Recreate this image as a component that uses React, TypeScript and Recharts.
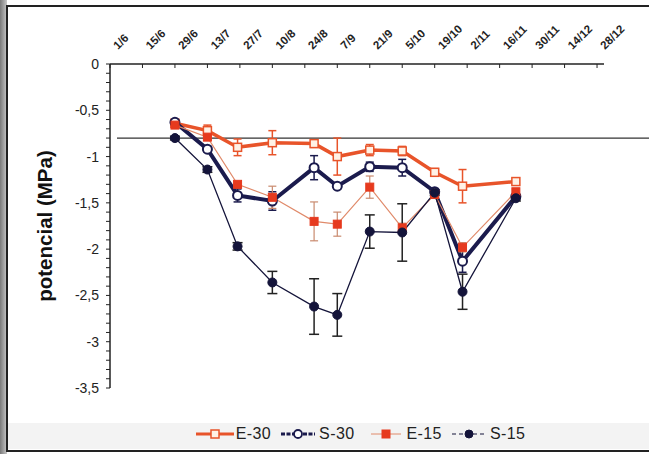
import React from 'react';
import { LineChart, Line, XAxis, YAxis, ErrorBar, ReferenceLine, Legend } from 'recharts';

const FONT = '"Liberation Sans", Arial, sans-serif';

// days since 1 June
const days = [28, 42, 55, 70, 88, 98, 112, 126, 140, 152, 175];
const e30 = [-0.64, -0.72, -0.9, -0.85, -0.86, -1.0, -0.93, -0.94, -1.17, -1.32, -1.27];
const e30Err = [0.03, 0.06, 0.09, 0.13, 0.04, 0.2, 0.06, 0.05, 0.04, 0.18, 0.03];
const s30 = [-0.63, -0.92, -1.42, -1.48, -1.12, -1.32, -1.11, -1.12, -1.38, -2.13, -1.43];
const s30Err = [0.02, 0.03, 0.07, 0.1, 0.13, 0.03, 0.05, 0.09, 0.03, 0.12, 0.03];
const e15 = [-0.66, -0.79, -1.3, -1.44, -1.7, -1.73, -1.33, -1.77, -1.41, -1.98, -1.38];
const e15Err = [0.02, 0.03, 0.03, 0.12, 0.21, 0.13, 0.12, 0.05, 0.03, 0.05, 0.03];
const s15 = [-0.8, -1.14, -1.97, -2.36, -2.62, -2.71, -1.81, -1.82, -1.39, -2.46, -1.45];
const s15Err = [0.02, 0.03, 0.04, 0.12, 0.3, 0.23, 0.18, 0.31, 0.03, 0.19, 0.03];

const tickDays = [0, 14, 28, 42, 56, 70, 84, 98, 112, 126, 140, 154, 168, 182, 196, 210];
const tickLabels = ['1/6', '15/6', '29/6', '13/7', '27/7', '10/8', '24/8', '7/9', '21/9', '5/10', '19/10', '2/11', '16/11', '30/11', '14/12', '28/12'];
const yTicks = [0, -0.1, -0.2, -0.3, -0.4, -0.5, -0.6, -0.7, -0.8, -0.9, -1, -1.1, -1.2, -1.3, -1.4, -1.5, -1.6, -1.7, -1.8, -1.9, -2, -2.1, -2.2, -2.3, -2.4, -2.5, -2.6, -2.7, -2.8, -2.9, -3, -3.1, -3.2, -3.3, -3.4, -3.5];
const yLabelTicks = [0, -0.5, -1, -1.5, -2, -2.5, -3, -3.5];
const thresholdValue = -0.8;

const data = days.map((d, i) => ({
  day: d,
  e30: e30[i], e30Err: e30Err[i],
  s30: s30[i], s30Err: s30Err[i],
  e15: e15[i], e15Err: e15Err[i],
  s15: s15[i], s15Err: s15Err[i],
}));

const C_E30 = '#e8542a';
const C_S30 = '#1b1b4d';
const C_E15 = '#e63a1e';
const C_E15_LINE = '#e08a6a';
const C_S15 = '#14143a';

const squareDot = (fill: string, stroke: string, size: number, sw: number) => (p: any) => {
  if (p.cx == null || p.cy == null) return <g key={p.index} />;
  return <rect key={p.index} x={p.cx - size / 2} y={p.cy - size / 2} width={size} height={size} fill={fill} stroke={stroke} strokeWidth={sw} />;
};
const circleDot = (fill: string, stroke: string, r: number, sw: number) => (p: any) => {
  if (p.cx == null || p.cy == null) return <g key={p.index} />;
  return <circle key={p.index} cx={p.cx} cy={p.cy} r={r} fill={fill} stroke={stroke} strokeWidth={sw} />;
};

const TopTick = (props: any) => {
  const { x, y, payload } = props;
  const idx = tickDays.indexOf(payload.value);
  const label = idx >= 0 ? tickLabels[idx] : '';
  return (
    <text
      x={0}
      y={0}
      transform={`translate(${x + 8},${y - 16}) rotate(-45)`}
      textAnchor="start"
      fontSize={11.5}
      fontWeight="bold"
      fontFamily={FONT}
      fill="#222"
    >
      {label}
    </text>
  );
};

const LeftTick = (props: any) => {
  const { x, y, payload } = props;
  const v = payload.value;
  if (!yLabelTicks.some((t) => Math.abs(t - v) < 1e-9)) return <g />;
  return (
    <text x={x} y={y} dy={5} textAnchor="end" fontSize={14} fontFamily={FONT} fill="#222">
      {String(v).replace('.', ',')}
    </text>
  );
};

const LegendContent = () => {
  const item = (icon: React.ReactNode, label: string, gap: number) => (
    <div style={{ display: 'flex', alignItems: 'center', marginRight: gap }}>
      <svg width={38} height={14} style={{ marginRight: 2 }}>{icon}</svg>
      <span>{label}</span>
    </div>
  );
  return (
    <div style={{ display: 'flex', justifyContent: 'center', alignItems: 'center', fontFamily: FONT, fontSize: 16, color: '#222', letterSpacing: 0.4 }}>
      {item(<g><line x1={0} y1={7} x2={38} y2={7} stroke={C_E30} strokeWidth={3} /><rect x={15} y={3} width={8} height={8} fill="#fff2e6" stroke={C_E30} strokeWidth={1.5} /></g>, 'E-30', 8)}
      {item(<g><line x1={2} y1={7} x2={36} y2={7} stroke={C_S30} strokeWidth={3} strokeDasharray="4 1.5" /><circle cx={19} cy={7} r={4} fill="#fff" stroke={C_S30} strokeWidth={1.8} /></g>, 'S-30', 12)}
      {item(<g><line x1={4} y1={7} x2={34} y2={7} stroke={C_E15_LINE} strokeWidth={1} /><rect x={15} y={3} width={8} height={8} fill={C_E15} stroke={C_E15} strokeWidth={1} /></g>, 'E-15', 8)}
      {item(<g><line x1={2} y1={7} x2={36} y2={7} stroke={C_S15} strokeWidth={1.2} strokeDasharray="4 3" /><circle cx={19} cy={7} r={4} fill={C_S15} stroke={C_S15} strokeWidth={1} /></g>, 'S-15', 0)}
    </div>
  );
};

export default function App() {
  return (
    <div style={{ position: 'absolute', left: 0, top: 0, width: 649, height: 454, overflow: 'hidden', background: '#fff' }}>
      <div style={{ position: 'absolute', left: 0, top: 0, width: 7, height: 454, background: 'linear-gradient(to right, #7a7a7a, #c8c8c8)' }} />
      <div style={{ position: 'absolute', left: 8, top: 423, width: 660, height: 26, background: '#f3f3f3' }} />
      <div style={{ position: 'absolute', left: 6, top: 5, width: 680, height: 443, border: '2px solid #222', boxSizing: 'content-box' }} />
      <div style={{ position: 'absolute', left: 0, top: 0 }}>
        <LineChart width={649} height={454} data={data} margin={{ top: 14, right: 45, bottom: 66, left: 0 }}>
          <XAxis
            dataKey="day"
            type="number"
            orientation="top"
            domain={[0, 213]}
            ticks={tickDays}
            height={50}
            interval={0}
            tick={<TopTick />}
            tickSize={-4}
            tickLine={{ stroke: '#222' }}
            axisLine={{ stroke: '#222', strokeWidth: 1.5 }}
          />
          <XAxis
            xAxisId="bottom"
            dataKey="day"
            type="number"
            orientation="bottom"
            domain={[0, 213]}
            height={0}
            tick={false}
            tickLine={false}
            axisLine={{ stroke: '#222', strokeWidth: 1.5 }}
          />
          <YAxis
            type="number"
            domain={[-3.5, 0]}
            ticks={yTicks}
            interval={0}
            width={110}
            tickSize={4}
            tickMargin={7}
            tick={<LeftTick />}
            tickLine={{ stroke: '#222' }}
            axisLine={{ stroke: '#222', strokeWidth: 1.5 }}
            label={{ value: 'potencial (MPa)', angle: -90, position: 'center', dx: -10, style: { fontFamily: FONT, fontSize: 20.5, fontWeight: 'bold', fill: '#111' } }}
          />
          <YAxis
            yAxisId="right"
            orientation="right"
            type="number"
            domain={[-3.5, 0]}
            width={0}
            tick={false}
            tickLine={false}
            axisLine={{ stroke: '#222', strokeWidth: 1.5 }}
          />
          <ReferenceLine
            y={thresholdValue}
            shape={(p: any) => <line x1={p.x1 + 7} y1={p.y1} x2={649} y2={p.y2} stroke="#333" strokeWidth={1.3} />}
          />
          <Line dataKey="e30" stroke={C_E30} strokeWidth={3.5} isAnimationActive={false} dot={squareDot('#fff2e6', C_E30, 8, 1.5)} activeDot={false}>
            <ErrorBar dataKey="e30Err" direction="y" width={4} stroke={C_E30} strokeWidth={1.5} isAnimationActive={false} />
          </Line>
          <Line dataKey="s30" stroke={C_S30} strokeWidth={4} isAnimationActive={false} dot={circleDot('#fff', C_S30, 4.5, 2)} activeDot={false}>
            <ErrorBar dataKey="s30Err" direction="y" width={4} stroke={C_S30} strokeWidth={1.5} isAnimationActive={false} />
          </Line>
          <Line dataKey="e15" stroke={C_E15_LINE} strokeWidth={1.2} isAnimationActive={false} dot={squareDot(C_E15, C_E15, 8, 1)} activeDot={false}>
            <ErrorBar dataKey="e15Err" direction="y" width={4} stroke="#c98a6e" strokeWidth={1.2} isAnimationActive={false} />
          </Line>
          <Line dataKey="s15" stroke={C_S15} strokeWidth={1.3} isAnimationActive={false} dot={circleDot(C_S15, C_S15, 4.5, 1)} activeDot={false}>
            <ErrorBar dataKey="s15Err" direction="y" width={5} stroke="#222" strokeWidth={1.5} isAnimationActive={false} />
          </Line>
          <Legend
            layout="horizontal"
            verticalAlign="middle"
            align="center"
            content={<LegendContent />}
            wrapperStyle={{ position: 'absolute', left: 36, top: 425, width: 649, height: 20 }}
          />
        </LineChart>
      </div>
    </div>
  );
}
